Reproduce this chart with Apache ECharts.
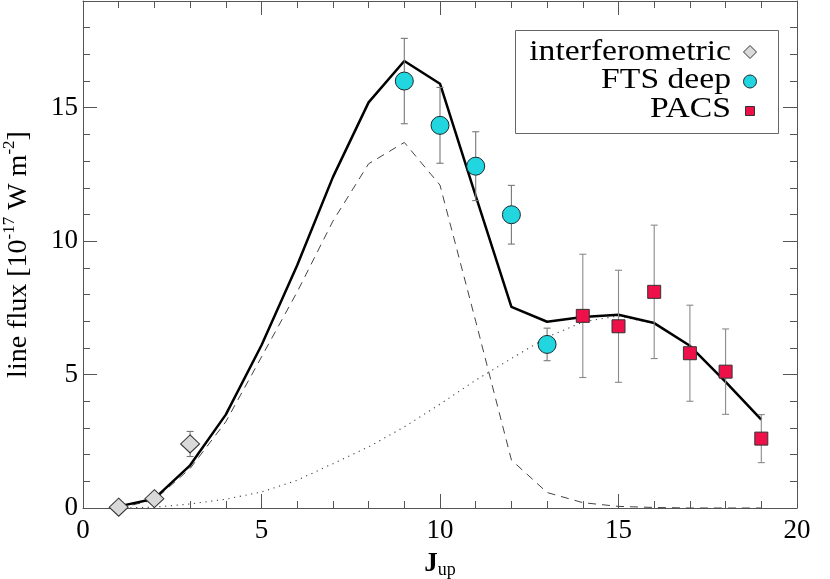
<!DOCTYPE html>
<html>
<head>
<meta charset="utf-8">
<script src="https://cdn.jsdelivr.net/npm/echarts@6/dist/echarts.min.js"></script>
<style>
html,body{margin:0;padding:0;background:#fff;}
#chart{width:830px;height:579px;}
</style>
</head>
<body>
<div id="chart"></div>
<script>
// ---- data ----
const jModel = [1,2,3,4,5,6,7,8,9,10,11,12,13,14,15,16,17,18,19];
const totalModel = [0.06,0.35,1.6,3.5,6.1,9.1,12.4,15.2,16.75,15.9,11.7,7.54,6.98,7.16,7.24,6.93,6.08,4.73,3.31];
const dashedModel = [0.0,0.3,1.48,3.23,5.66,8.1,10.75,12.9,13.7,12.1,7.0,1.8,0.58,0.2,0.06,0.02,0.0,0.0,0.0];
const dottedModel = [0.0,0.03,0.15,0.33,0.6,1.04,1.66,2.29,3.04,3.89,4.79,5.6,6.4,6.97,7.2,6.91,6.08,4.73,3.31];

const jInterf = [1,2,3];
const fluxInterf = [0.03,0.35,2.4];
const errInterf = [0,0,0.47];

const jFTS = [9,10,11,12,13];
const fluxFTS = [16.0,14.34,12.81,10.99,6.13];
const errFTS = [1.6,1.42,1.29,1.1,0.61];

const jPACS = [14,15,16,17,18,19];
const fluxPACS = [7.2,6.81,8.1,5.8,5.11,2.6];
const errPACS = [2.31,2.1,2.5,1.8,1.6,0.9];

const legendLabels = ['interferometric','FTS deep','PACS'];
const xTitle = 'J';
const xTitleSub = 'up';
const yTitle = 'line flux [10{s|-17} W m{s|-2}]';

// ---- helpers ----
const FONT = '"Liberation Serif", "DejaVu Serif", serif';
const pairs = (xs, ys) => xs.map((x, i) => [x, ys[i]]);
const errData = (xs, ys, es) => xs.map((x, i) => [x, ys[i] - es[i], ys[i] + es[i], es[i]]);

function errRenderer(color) {
  return function (params, api) {
    if (api.value(3) <= 0) return null;
    const x = api.value(0);
    const p1 = api.coord([x, api.value(1)]);
    const p2 = api.coord([x, api.value(2)]);
    const w = 3.5;
    const st = {stroke: color, lineWidth: 1.1};
    return {
      type: 'group',
      children: [
        {type: 'line', shape: {x1: p1[0], y1: p1[1], x2: p2[0], y2: p2[1]}, style: st},
        {type: 'line', shape: {x1: p1[0] - w, y1: p1[1], x2: p1[0] + w, y2: p1[1]}, style: st},
        {type: 'line', shape: {x1: p2[0] - w, y1: p2[1], x2: p2[0] + w, y2: p2[1]}, style: st}
      ]
    };
  };
}

const AX = '#555';
function xAx(pos, withLabels) {
  return {
    type: 'value', min: 0, max: 20, interval: 5, position: pos,
    axisLine: {show: true, onZero: false, lineStyle: {color: AX, width: 1}},
    axisTick: {show: true, inside: true, length: 14, lineStyle: {color: AX, width: 1}},
    minorTick: {show: true, splitNumber: 5, length: 7, lineStyle: {color: AX, width: 1}},
    splitLine: {show: false},
    axisLabel: withLabels ? {show: true, fontFamily: FONT, fontSize: 27, color: '#000', margin: 9} : {show: false},
    name: withLabels ? '{j|' + xTitle + '}{u|' + xTitleSub + '}' : '',
    nameLocation: 'middle', nameGap: 41,
    nameTextStyle: {
      fontFamily: FONT, color: '#000', lineHeight: 30,
      rich: {
        j: {fontFamily: FONT, fontWeight: 'bold', fontSize: 27, color: '#000'},
        u: {fontFamily: FONT, fontSize: 18, color: '#000', verticalAlign: 'bottom', lineHeight: 17}
      }
    }
  };
}
function yAx(pos, interval, tickLen, showLine, withLabels) {
  return {
    type: 'value', min: 0, max: 19, interval: interval, position: pos,
    axisLine: {show: showLine, onZero: false, lineStyle: {color: AX, width: 1}},
    axisTick: {show: true, inside: true, length: tickLen, lineStyle: {color: AX, width: 1}},
    splitLine: {show: false},
    axisLabel: withLabels ? {
      show: true, fontFamily: FONT, fontSize: 27, color: '#000', margin: 5,
      showMaxLabel: false,
      formatter: v => (v % 5 === 0 ? String(v) : '')
    } : {show: false},
    name: withLabels ? yTitle : '',
    nameLocation: 'middle', nameGap: 46, nameRotate: 90,
    nameTextStyle: {
      fontFamily: FONT, fontSize: 28, color: '#000', lineHeight: 36,
      rich: {
        s: {fontFamily: FONT, fontSize: 17, color: '#000', verticalAlign: 'top', lineHeight: 17}
      }
    }
  };
}

const chart = echarts.init(document.getElementById('chart'), null, {renderer: 'canvas'});
const legendFont = '29px ' + FONT;
const option = {
  backgroundColor: '#fff',
  animation: false,
  grid: {left: 83, right: 33, top: 1, bottom: 71, containLabel: false, outerBoundsMode: 'none'},
  xAxis: [xAx('bottom', true), xAx('top', false)],
  yAxis: [
    yAx('left', 1, 7, true, true),
    yAx('left', 5, 14, false, false),
    yAx('right', 1, 7, true, false),
    yAx('right', 5, 14, false, false)
  ],
  series: [
    {type: 'line', data: pairs(jModel, dottedModel), symbol: 'none', silent: true, z: 2,
     lineStyle: {color: '#444', width: 1.1, type: [1.2, 4.6]}},
    {type: 'line', data: pairs(jModel, dashedModel), symbol: 'none', silent: true, z: 2,
     lineStyle: {color: '#444', width: 1, type: [8, 6]}},
    {type: 'line', data: pairs(jModel, totalModel), symbol: 'none', silent: true, z: 3,
     lineStyle: {color: '#000', width: 2.5}},
    {type: 'custom', data: errData(jInterf, fluxInterf, errInterf), renderItem: errRenderer('#777'), z: 4, silent: true},
    {type: 'custom', data: errData(jFTS, fluxFTS, errFTS), renderItem: errRenderer('#777'), z: 4, silent: true},
    {type: 'custom', data: errData(jPACS, fluxPACS, errPACS), renderItem: errRenderer('#8a8a8a'), z: 4, silent: true},
    {type: 'scatter', name: legendLabels[0], data: pairs(jInterf, fluxInterf), symbol: 'diamond', symbolSize: [19, 18], z: 5,
     itemStyle: {color: '#d9d9d9', borderColor: '#333', borderWidth: 1, opacity: 1}},
    {type: 'scatter', name: legendLabels[1], data: pairs(jFTS, fluxFTS), symbol: 'circle', symbolSize: 18, z: 5,
     itemStyle: {color: '#22d6e0', borderColor: '#1a2a30', borderWidth: 1, opacity: 1}},
    {type: 'scatter', name: legendLabels[2], data: pairs(jPACS, fluxPACS), symbol: 'rect', symbolSize: 13, z: 5,
     itemStyle: {color: '#ee1048', borderColor: '#333', borderWidth: 1, opacity: 1}}
  ],
  graphic: [
    {type: 'rect', z: 100, shape: {x: 515.5, y: 30.5, width: 263, height: 103},
     style: {fill: '#fff', stroke: '#666', lineWidth: 1}},
    {type: 'text', z: 101, x: 731, y: 52, scaleX: 1.16, style: {text: legendLabels[0], align: 'right', verticalAlign: 'middle', font: legendFont, fill: '#000'}},
    {type: 'text', z: 101, x: 731, y: 80, scaleX: 1.16, style: {text: legendLabels[1], align: 'right', verticalAlign: 'middle', font: legendFont, fill: '#000'}},
    {type: 'text', z: 101, x: 731, y: 109, scaleX: 1.16, style: {text: legendLabels[2], align: 'right', verticalAlign: 'middle', font: legendFont, fill: '#000'}},
    {type: 'polygon', z: 101, shape: {points: [[750, 45.5], [756.5, 52], [750, 58.5], [743.5, 52]]},
     style: {fill: '#d9d9d9', stroke: '#333', lineWidth: 1}},
    {type: 'circle', z: 101, shape: {cx: 750, cy: 81.5, r: 6.5},
     style: {fill: '#22d6e0', stroke: '#1a2a30', lineWidth: 1}},
    {type: 'rect', z: 101, shape: {x: 745.5, y: 106.5, width: 9, height: 9},
     style: {fill: '#ee1048', stroke: '#333', lineWidth: 1}}
  ]
};
chart.setOption(option);
</script>
</body>
</html>
